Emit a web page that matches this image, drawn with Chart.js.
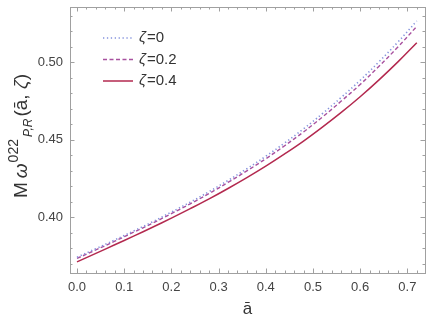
<!DOCTYPE html>
<html lang="en">
<head>
<meta charset="UTF-8">
<title>QNM frequency vs spin</title>
<script src="https://cdn.jsdelivr.net/npm/chart.js"></script>
<style>
  html, body { margin: 0; padding: 0; background: #fff; }
  #wrap { width: 436px; height: 320px; }
</style>
</head>
<body>
<div id="wrap"><canvas id="qnmChart" width="436" height="320"></canvas></div>
<script>
// spin values (x) and the three curves
const spin = [0, 0.04, 0.08, 0.12, 0.16, 0.20, 0.24, 0.28, 0.32, 0.36,
              0.40, 0.44, 0.48, 0.52, 0.56, 0.60, 0.64, 0.68, 0.72];
const omegaZeta0 = [0.3741, 0.3796, 0.3852, 0.3910, 0.3969, 0.4032, 0.4096, 0.4164, 0.4236, 0.4312,
                    0.4392, 0.4478, 0.4569, 0.4667, 0.4772, 0.4882, 0.5002, 0.5129, 0.5265];
const omegaZeta02 = [0.3733, 0.3788, 0.3844, 0.3902, 0.3960, 0.4022, 0.4085, 0.4152, 0.4223, 0.4298,
                     0.4376, 0.4460, 0.4549, 0.4645, 0.4748, 0.4855, 0.4973, 0.5097, 0.5230];
const omegaZeta04 = [0.3711, 0.3766, 0.3821, 0.3877, 0.3934, 0.3993, 0.4054, 0.4117, 0.4184, 0.4254,
                     0.4328, 0.4407, 0.4490, 0.4580, 0.4675, 0.4776, 0.4885, 0.5001, 0.5125];
const zetaLabels = ['0', '0.2', '0.4'];
const xTicks = [0, 0.1, 0.2, 0.3, 0.4, 0.5, 0.6, 0.7];
const yTicks = [0.40, 0.45, 0.50];

const FONT = "'Liberation Sans', Arial, sans-serif";

function pts(ys) {
    return spin.map((x, i) => ({ x: x, y: ys[i] }));
}

// frame with inward ticks on all four sides (Mathematica style)
const frameTicks = {
    id: 'frameTicks',
    afterDatasetsDraw(chart) {
        const { ctx, chartArea: a, scales } = chart;
        const xs = scales.x, ys = scales.y;
        ctx.save();
        ctx.strokeStyle = '#a0a0a0';
        ctx.lineWidth = 1;
        ctx.strokeRect(Math.round(a.left) + 0.5, Math.round(a.top) + 0.5,
                       Math.round(a.right - a.left), Math.round(a.bottom - a.top));
        ctx.beginPath();
        for (let v = 0; v <= 0.7201; v += 0.02) {
            const major = Math.abs(v * 10 - Math.round(v * 10)) < 1e-6;
            const len = major ? 4.5 : 2.5;
            const px = Math.round(xs.getPixelForValue(v)) + 0.5;
            ctx.moveTo(px, a.bottom); ctx.lineTo(px, a.bottom - len);
            ctx.moveTo(px, a.top); ctx.lineTo(px, a.top + len);
        }
        for (let v = 0.37; v <= 0.5301; v += 0.01) {
            const major = Math.abs(v * 20 - Math.round(v * 20)) < 1e-6;
            const len = major ? 4.5 : 2.5;
            const py = Math.round(ys.getPixelForValue(v)) + 0.5;
            ctx.moveTo(a.left, py); ctx.lineTo(a.left + len, py);
            ctx.moveTo(a.right, py); ctx.lineTo(a.right - len, py);
        }
        ctx.stroke();
        ctx.restore();
    }
};

// legend in the upper left of the plot, italic zeta
const zetaLegend = {
    id: 'zetaLegend',
    afterDatasetsDraw(chart) {
        const { ctx, chartArea: a } = chart;
        ctx.save();
        chart.data.datasets.forEach((ds, i) => {
            const y = a.top + 31 + i * 21.5;
            const x0 = a.left + 33;
            ctx.strokeStyle = ds.borderColor;
            ctx.lineWidth = ds.borderWidth;
            ctx.setLineDash(ds.borderDash || []);
            ctx.beginPath();
            ctx.moveTo(x0, y); ctx.lineTo(x0 + 30, y);
            ctx.stroke();
            ctx.setLineDash([]);
            ctx.fillStyle = '#333';
            ctx.textBaseline = 'middle';
            ctx.font = 'italic 15px ' + FONT;
            ctx.fillText('ζ', x0 + 36, y);
            const w = ctx.measureText('ζ').width;
            ctx.font = '15px ' + FONT;
            ctx.fillText('=' + zetaLabels[i], x0 + 36 + w + 1, y);
        });
        ctx.restore();
    }
};

// rotated y title: M ω^022_P,R(ā, ζ)
const yTitle = {
    id: 'yTitle',
    afterDraw(chart) {
        const ctx = chart.ctx;
        ctx.save();
        ctx.translate(27, 198);
        ctx.rotate(-Math.PI / 2);
        ctx.fillStyle = '#333';
        ctx.textBaseline = 'alphabetic';
        let x = 0;
        const put = (txt, font, dy) => {
            ctx.font = font;
            ctx.fillText(txt, x, dy);
            x += ctx.measureText(txt).width;
        };
        put('M', '19px ' + FONT, 0);
        x += 4;
        put('ω', 'italic 19px ' + FONT, 0);
        x += 1;
        put('022', '14px ' + FONT, -9);
        x += 2;
        put('P,R', 'italic 12px ' + FONT, 5);
        x += 2;
        put('(ā, ', '19px ' + FONT, 0);
        put('ζ', 'italic 19px ' + FONT, 0);
        put(')', '19px ' + FONT, 0);
        ctx.restore();
    }
};

// keep the plot frame exactly where the layout padding puts it
function noLabelPadding(s) {
    s.paddingTop = 0; s.paddingBottom = 0;
    s.paddingLeft = 0; s.paddingRight = 0;
}

const ctx = document.getElementById('qnmChart').getContext('2d');
new Chart(ctx, {
    type: 'line',
    data: {
        datasets: [
            {
                label: 'ζ=0',
                data: pts(omegaZeta0),
                borderColor: '#8593dd',
                borderWidth: 1.6,
                borderDash: [1.3, 2.6],
                pointRadius: 0,
                tension: 0.4,
                fill: false
            },
            {
                label: 'ζ=0.2',
                data: pts(omegaZeta02),
                borderColor: '#a8519f',
                borderWidth: 1.4,
                borderDash: [4, 2.5],
                pointRadius: 0,
                tension: 0.4,
                fill: false
            },
            {
                label: 'ζ=0.4',
                data: pts(omegaZeta04),
                borderColor: '#b3294f',
                borderWidth: 1.5,
                pointRadius: 0,
                tension: 0.4,
                fill: false
            }
        ]
    },
    options: {
        responsive: false,
        animation: false,
        devicePixelRatio: 1,
        layout: { padding: { top: 7, right: 11, left: 0, bottom: 0 } },
        plugins: {
            legend: { display: false },
            tooltip: { enabled: false }
        },
        scales: {
            x: {
                type: 'linear',
                min: -0.0148,
                max: 0.7374,
                afterBuildTicks: s => { s.ticks = xTicks.map(v => ({ value: v })); },
                afterFit: s => { s.height = 47; noLabelPadding(s); },
                grid: { display: false, drawTicks: false },
                border: { display: false },
                ticks: {
                    callback: v => v.toFixed(1),
                    font: { family: FONT, size: 13 },
                    color: '#444',
                    padding: 7,
                    maxRotation: 0,
                    autoSkip: false
                },
                title: {
                    display: true,
                    text: 'ā',
                    font: { family: FONT, size: 17 },
                    color: '#333',
                    padding: 0
                }
            },
            y: {
                min: 0.3639,
                max: 0.5355,
                afterBuildTicks: s => { s.ticks = yTicks.map(v => ({ value: v })); },
                afterFit: s => { s.width = 70; noLabelPadding(s); },
                grid: { display: false, drawTicks: false },
                border: { display: false },
                ticks: {
                    callback: v => v.toFixed(2),
                    font: { family: FONT, size: 13 },
                    color: '#444',
                    padding: 7,
                    autoSkip: false
                }
            }
        }
    },
    plugins: [frameTicks, zetaLegend, yTitle]
});
</script>
</body>
</html>
